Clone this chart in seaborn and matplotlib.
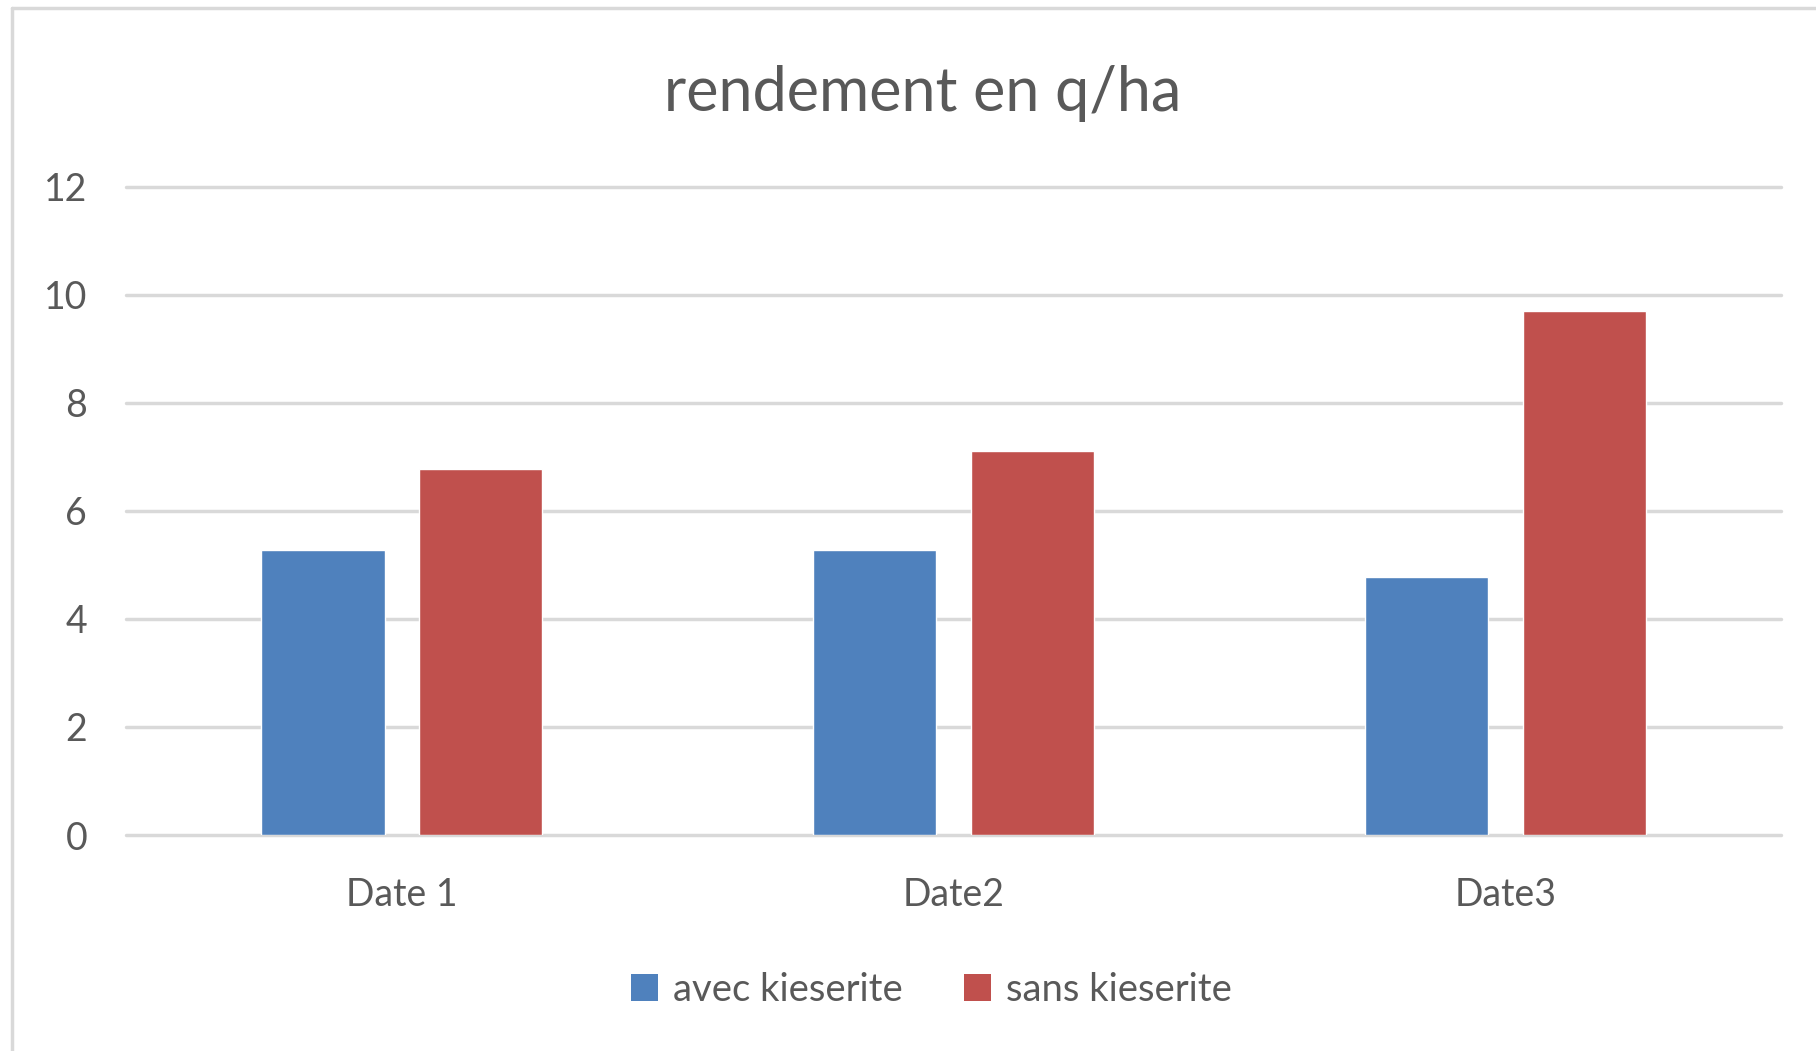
import matplotlib
matplotlib.use("Agg")
import matplotlib.pyplot as plt
import pandas as pd
import seaborn as sns
from matplotlib.patches import Patch

sns.set_theme(style="white")
plt.rcParams["font.family"] = ["Lato", "DejaVu Sans"]

dates = ["Date 1", "Date2", "Date3"]
avec_kieserite = [5.28, 5.28, 4.78]
sans_kieserite = [6.77, 7.11, 9.70]
series_names = ["avec kieserite", "sans kieserite"]
colors = ["#4F81BD", "#C0504D"]
text_color = "#595959"

df = pd.DataFrame({
    "date": dates * 2,
    "serie": [series_names[0]] * 3 + [series_names[1]] * 3,
    "rendement": avec_kieserite + sans_kieserite,
})

fig = plt.figure(figsize=(18.16, 10.51), dpi=100)
ax = fig.add_axes([0.0694, 0.2055, 0.9116, 0.617])

sns.barplot(data=df, x="date", y="rendement", hue="serie", palette=colors,
            width=0.572, gap=0.22, saturation=1, errorbar=None, ax=ax, legend=False)

ax.set_ylim(0, 12)
ax.set_xlim(-0.5, 2.5)
ax.set_yticks(range(0, 13, 2))
ax.grid(axis="y", color="#d9d9d9", linewidth=2.5)
ax.set_axisbelow(True)
for gl in ax.get_ygridlines():
    gl.set_clip_on(False)
for side in ax.spines.values():
    side.set_visible(False)
ax.set_xlabel("")
ax.set_ylabel("")
ax.tick_params(axis="y", length=0, pad=28, labelsize=27, labelcolor=text_color)
ax.tick_params(axis="x", length=0, pad=30, labelsize=27, labelcolor=text_color)

fig.text(0.508, 0.911, "rendement en q/ha", ha="center", va="center",
         fontsize=44, color=text_color)

handles = [Patch(facecolor=c, edgecolor="none") for c in colors]
fig.legend(handles, series_names, loc="center", bbox_to_anchor=(0.513, 0.058),
           ncol=2, frameon=False, fontsize=27.5, labelcolor=text_color,
           handlelength=0.7, handleheight=0.7, handletextpad=0.4, columnspacing=1.6)

# light chart border on the left and top
fig.add_artist(plt.Line2D([0.0065, 0.0065], [0.0, 0.992], color="#d9d9d9",
                          linewidth=2.5, transform=fig.transFigure))
fig.add_artist(plt.Line2D([0.0065, 1.0], [0.992, 0.992], color="#d9d9d9",
                          linewidth=2.5, transform=fig.transFigure))

fig.savefig("out.png", dpi=100)
plt.close(fig)
